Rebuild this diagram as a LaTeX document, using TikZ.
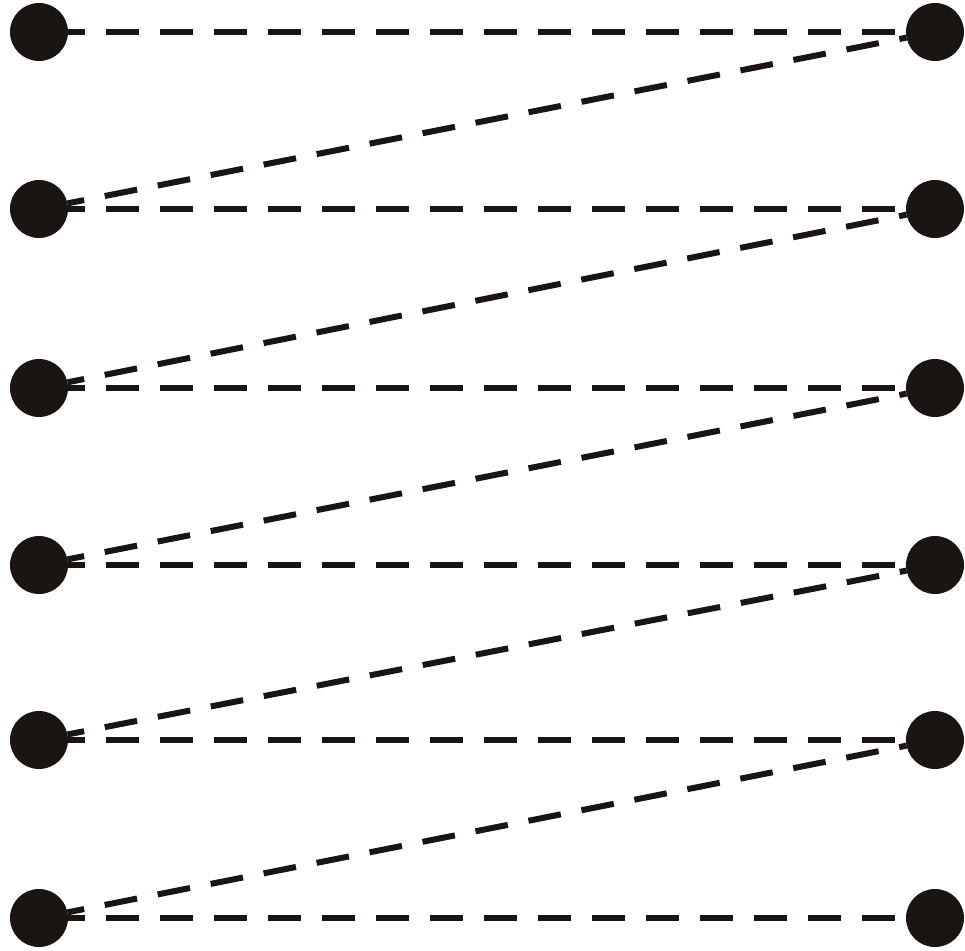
\documentclass[tikz,border=0pt]{standalone}
\definecolor{dotcol}{HTML}{1A1412}
\tikzset{
  dot/.style={circle, fill=dotcol, minimum size=58pt, inner sep=0pt, outer sep=0pt},
  link/.style={draw=dotcol, line width=6pt, dash pattern=on 33pt off 21pt, dash phase=16pt}
}
\begin{document}
\begin{tikzpicture}[x=1pt,y=1pt]
\useasboundingbox (0,0) rectangle (965,-950);
\foreach \i/\y in {1/32,2/209,3/388,4/565,5/740,6/918}{
  \node[dot] (L\i) at (39,-\y) {};
  \node[dot] (R\i) at (935,-\y) {};
}
\foreach \i in {1,...,6}{
  \draw[link] (L\i) -- (R\i);
}
\foreach \i/\j in {2/1,3/2,4/3,5/4,6/5}{
  \draw[link] (L\i) -- (R\j);
}
\end{tikzpicture}
\end{document}
